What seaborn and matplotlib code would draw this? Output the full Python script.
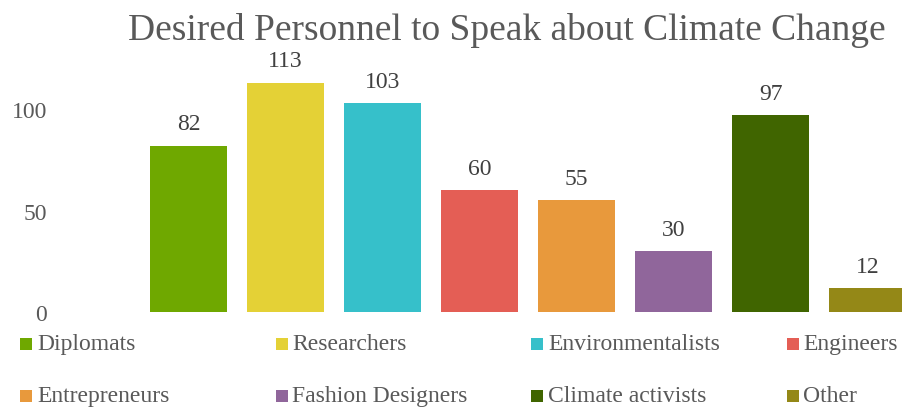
import matplotlib
matplotlib.use("Agg")
import matplotlib.pyplot as plt
import seaborn as sns
import pandas as pd
from matplotlib.patches import Rectangle

categories = ["Diplomats", "Researchers", "Environmentalists", "Engineers",
              "Entrepreneurs", "Fashion Designers", "Climate activists", "Other"]
values = [82, 113, 103, 60, 55, 30, 97, 12]
colors = ["#6fa800", "#e4d136", "#36c0ca", "#e45e55",
          "#e8993c", "#90669b", "#406500", "#948817"]
yticks = [0, 50, 100]
title = "Desired Personnel to Speak about Climate Change"

sns.set_theme(style="white")
plt.rcParams["font.family"] = ["Liberation Serif", "DejaVu Serif"]

W, H = 902, 410
fig = plt.figure(figsize=(W / 100, H / 100), dpi=100)
ax = fig.add_axes([140 / W, 97 / H, 776 / W, 243.6 / H])

df = pd.DataFrame({"cat": categories, "val": values})
sns.barplot(data=df, x="cat", y="val", hue="cat", palette=colors,
            order=categories, hue_order=categories, width=0.79,
            legend=False, ax=ax, saturation=1, linewidth=0)

ax.set_xlim(-0.5, len(categories) - 0.5)
ax.set_ylim(0, 120)
ax.set_yticks(yticks)
ax.set_yticklabels([str(t) for t in yticks])
ax.tick_params(axis="y", length=0, pad=67, labelsize=17, labelcolor="#595959")
ax.set_xticks([])
ax.set_xlabel("")
ax.set_ylabel("")
for s in ax.spines.values():
    s.set_visible(False)

for i, v in enumerate(values):
    ax.annotate(str(v), (i, v), xytext=(0, 8), textcoords="offset points",
                ha="center", va="bottom", fontsize=17, color="#404040")

fig.text(507 / W, 1 - 30 / H, title, ha="center", va="center",
         fontsize=27, color="#595959")

# legend: 4 columns, 2 rows
col_x = [20, 275.5, 531, 786.5]
row_y = [345, 397]
for k, (lab, c) in enumerate(zip(categories, colors)):
    r, cidx = divmod(k, 4)
    x0, yc = col_x[cidx], row_y[r]
    fig.patches.append(Rectangle((x0 / W, (H - yc - 6) / H), 12 / W, 12 / H,
                                 transform=fig.transFigure, facecolor=c,
                                 edgecolor="none"))
    fig.text((x0 + 17) / W, 1 - yc / H, lab, ha="left", va="center",
             fontsize=17, color="#595959")

fig.savefig("out.png", dpi=100)
